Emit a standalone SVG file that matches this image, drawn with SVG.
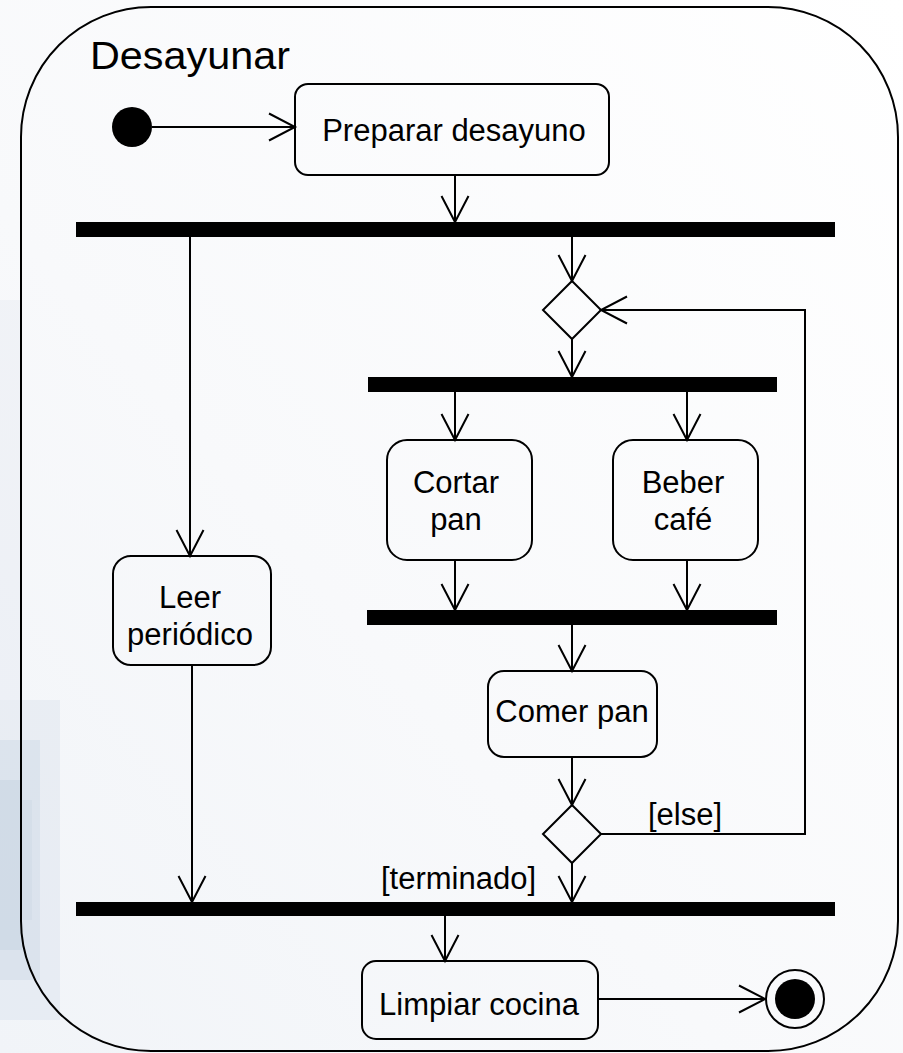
<svg xmlns="http://www.w3.org/2000/svg" width="903" height="1053" viewBox="0 0 903 1053">
  <style>
    .txt { font-family: "Liberation Sans", Arial, sans-serif; font-size: 31px; fill: #000; }
    .title { font-family: "Liberation Sans", Arial, sans-serif; font-size: 38px; fill: #000; }
    .box { fill: none; stroke: #000; stroke-width: 2; }
    .bar { fill: #000; }
    .flow { fill: none; stroke: #000; stroke-width: 2; marker-end: url(#open); }
    .plain { fill: none; stroke: #000; stroke-width: 2; }
  </style>
  <defs>
    <marker id="open" markerUnits="userSpaceOnUse" markerWidth="40" markerHeight="40" viewBox="-30 -20 34 40" refX="0" refY="0" orient="auto">
      <path d="M-26,-13.5 L0,0 L-26,13.5" fill="none" stroke="#000" stroke-width="2"/>
    </marker>
    <linearGradient id="bg" x1="1" y1="0" x2="0" y2="1">
      <stop offset="0" stop-color="#ffffff"/>
      <stop offset="0.6" stop-color="#f8f9fb"/>
      <stop offset="1" stop-color="#f1f4f8"/>
    </linearGradient>
  </defs>

  <!-- backdrop -->
  <rect x="0" y="0" width="903" height="1053" fill="url(#bg)"/>
  <g id="backdrop-shade" fill="#c6d3e2">
    <rect x="0" y="300" width="20" height="400" opacity="0.15"/>
    <rect x="0" y="700" width="60" height="320" opacity="0.25"/>
    <rect x="0" y="740" width="40" height="240" opacity="0.35"/>
    <rect x="0" y="780" width="22" height="170" opacity="0.5"/>
    <rect x="22" y="800" width="10" height="120" opacity="0.3"/>
  </g>

  <!-- activity frame -->
  <g id="frame">
    <rect x="21" y="7" width="877" height="1044" rx="130" ry="130" class="box"/>
    <text x="90" y="69" class="title" textLength="200" lengthAdjust="spacingAndGlyphs">Desayunar</text>
  </g>

  <!-- connectors -->
  <g id="connectors">
    <line x1="152" y1="127" x2="295" y2="127" class="flow"/>
    <line x1="455" y1="175" x2="455" y2="222" class="flow"/>
    <line x1="190" y1="237" x2="190" y2="556" class="flow"/>
    <line x1="572" y1="237" x2="572" y2="281" class="flow"/>
    <line x1="572" y1="339" x2="572" y2="377" class="flow"/>
    <line x1="455" y1="392" x2="455" y2="440" class="flow"/>
    <line x1="687" y1="392" x2="687" y2="440" class="flow"/>
    <line x1="455" y1="560" x2="455" y2="610" class="flow"/>
    <line x1="687" y1="560" x2="687" y2="610" class="flow"/>
    <line x1="572" y1="625" x2="572" y2="671" class="flow"/>
    <line x1="572" y1="757" x2="572" y2="805" class="flow"/>
    <polyline points="601,834 805,834 805,310 601,310" class="flow"/>
    <line x1="572" y1="863" x2="572" y2="902" class="flow"/>
    <line x1="192" y1="665" x2="192" y2="902" class="flow"/>
    <line x1="445" y1="916" x2="445" y2="961" class="flow"/>
    <line x1="598" y1="999" x2="765" y2="999" class="flow"/>
    <text x="648" y="825" class="txt">[else]</text>
    <text x="381" y="889" class="txt">[terminado]</text>
  </g>

  <g id="initial">
    <circle cx="132" cy="127" r="20" fill="#000"/>
  </g>

  <g id="preparar-desayuno">
    <rect x="295" y="84" width="314" height="91" rx="13" class="box"/>
    <text x="454" y="141" class="txt" text-anchor="middle">Preparar desayuno</text>
  </g>

  <g id="fork-1">
    <rect x="76" y="222" width="759" height="15" class="bar"/>
  </g>

  <g id="merge">
    <polygon points="572,281 601,310 572,339 543,310" class="box"/>
  </g>

  <g id="fork-2">
    <rect x="368" y="377" width="409" height="15" class="bar"/>
  </g>

  <g id="cortar-pan">
    <rect x="387" y="440" width="145" height="120" rx="20" class="box"/>
    <text x="456" y="493" class="txt" text-anchor="middle">Cortar</text>
    <text x="456" y="530" class="txt" text-anchor="middle">pan</text>
  </g>

  <g id="beber-cafe">
    <rect x="613" y="440" width="145" height="120" rx="20" class="box"/>
    <text x="683" y="493" class="txt" text-anchor="middle">Beber</text>
    <text x="683" y="530" class="txt" text-anchor="middle">café</text>
  </g>

  <g id="leer-periodico">
    <rect x="113" y="556" width="158" height="109" rx="18" class="box"/>
    <text x="190" y="608" class="txt" text-anchor="middle">Leer</text>
    <text x="190" y="645" class="txt" text-anchor="middle">periódico</text>
  </g>

  <g id="join-1">
    <rect x="367" y="610" width="410" height="15" class="bar"/>
  </g>

  <g id="comer-pan">
    <rect x="488" y="671" width="169" height="86" rx="16" class="box"/>
    <text x="572" y="722" class="txt" text-anchor="middle">Comer pan</text>
  </g>

  <g id="decision">
    <polygon points="572,805 601,834 572,863 543,834" class="box"/>
  </g>

  <g id="join-2">
    <rect x="76" y="902" width="759" height="14" class="bar"/>
  </g>

  <g id="limpiar-cocina">
    <rect x="362" y="961" width="236" height="78" rx="14" class="box"/>
    <text x="479" y="1015" class="txt" text-anchor="middle">Limpiar cocina</text>
  </g>

  <g id="final">
    <circle cx="795" cy="999" r="29" class="box"/>
    <circle cx="795" cy="999" r="20" fill="#000"/>
  </g>
</svg>
